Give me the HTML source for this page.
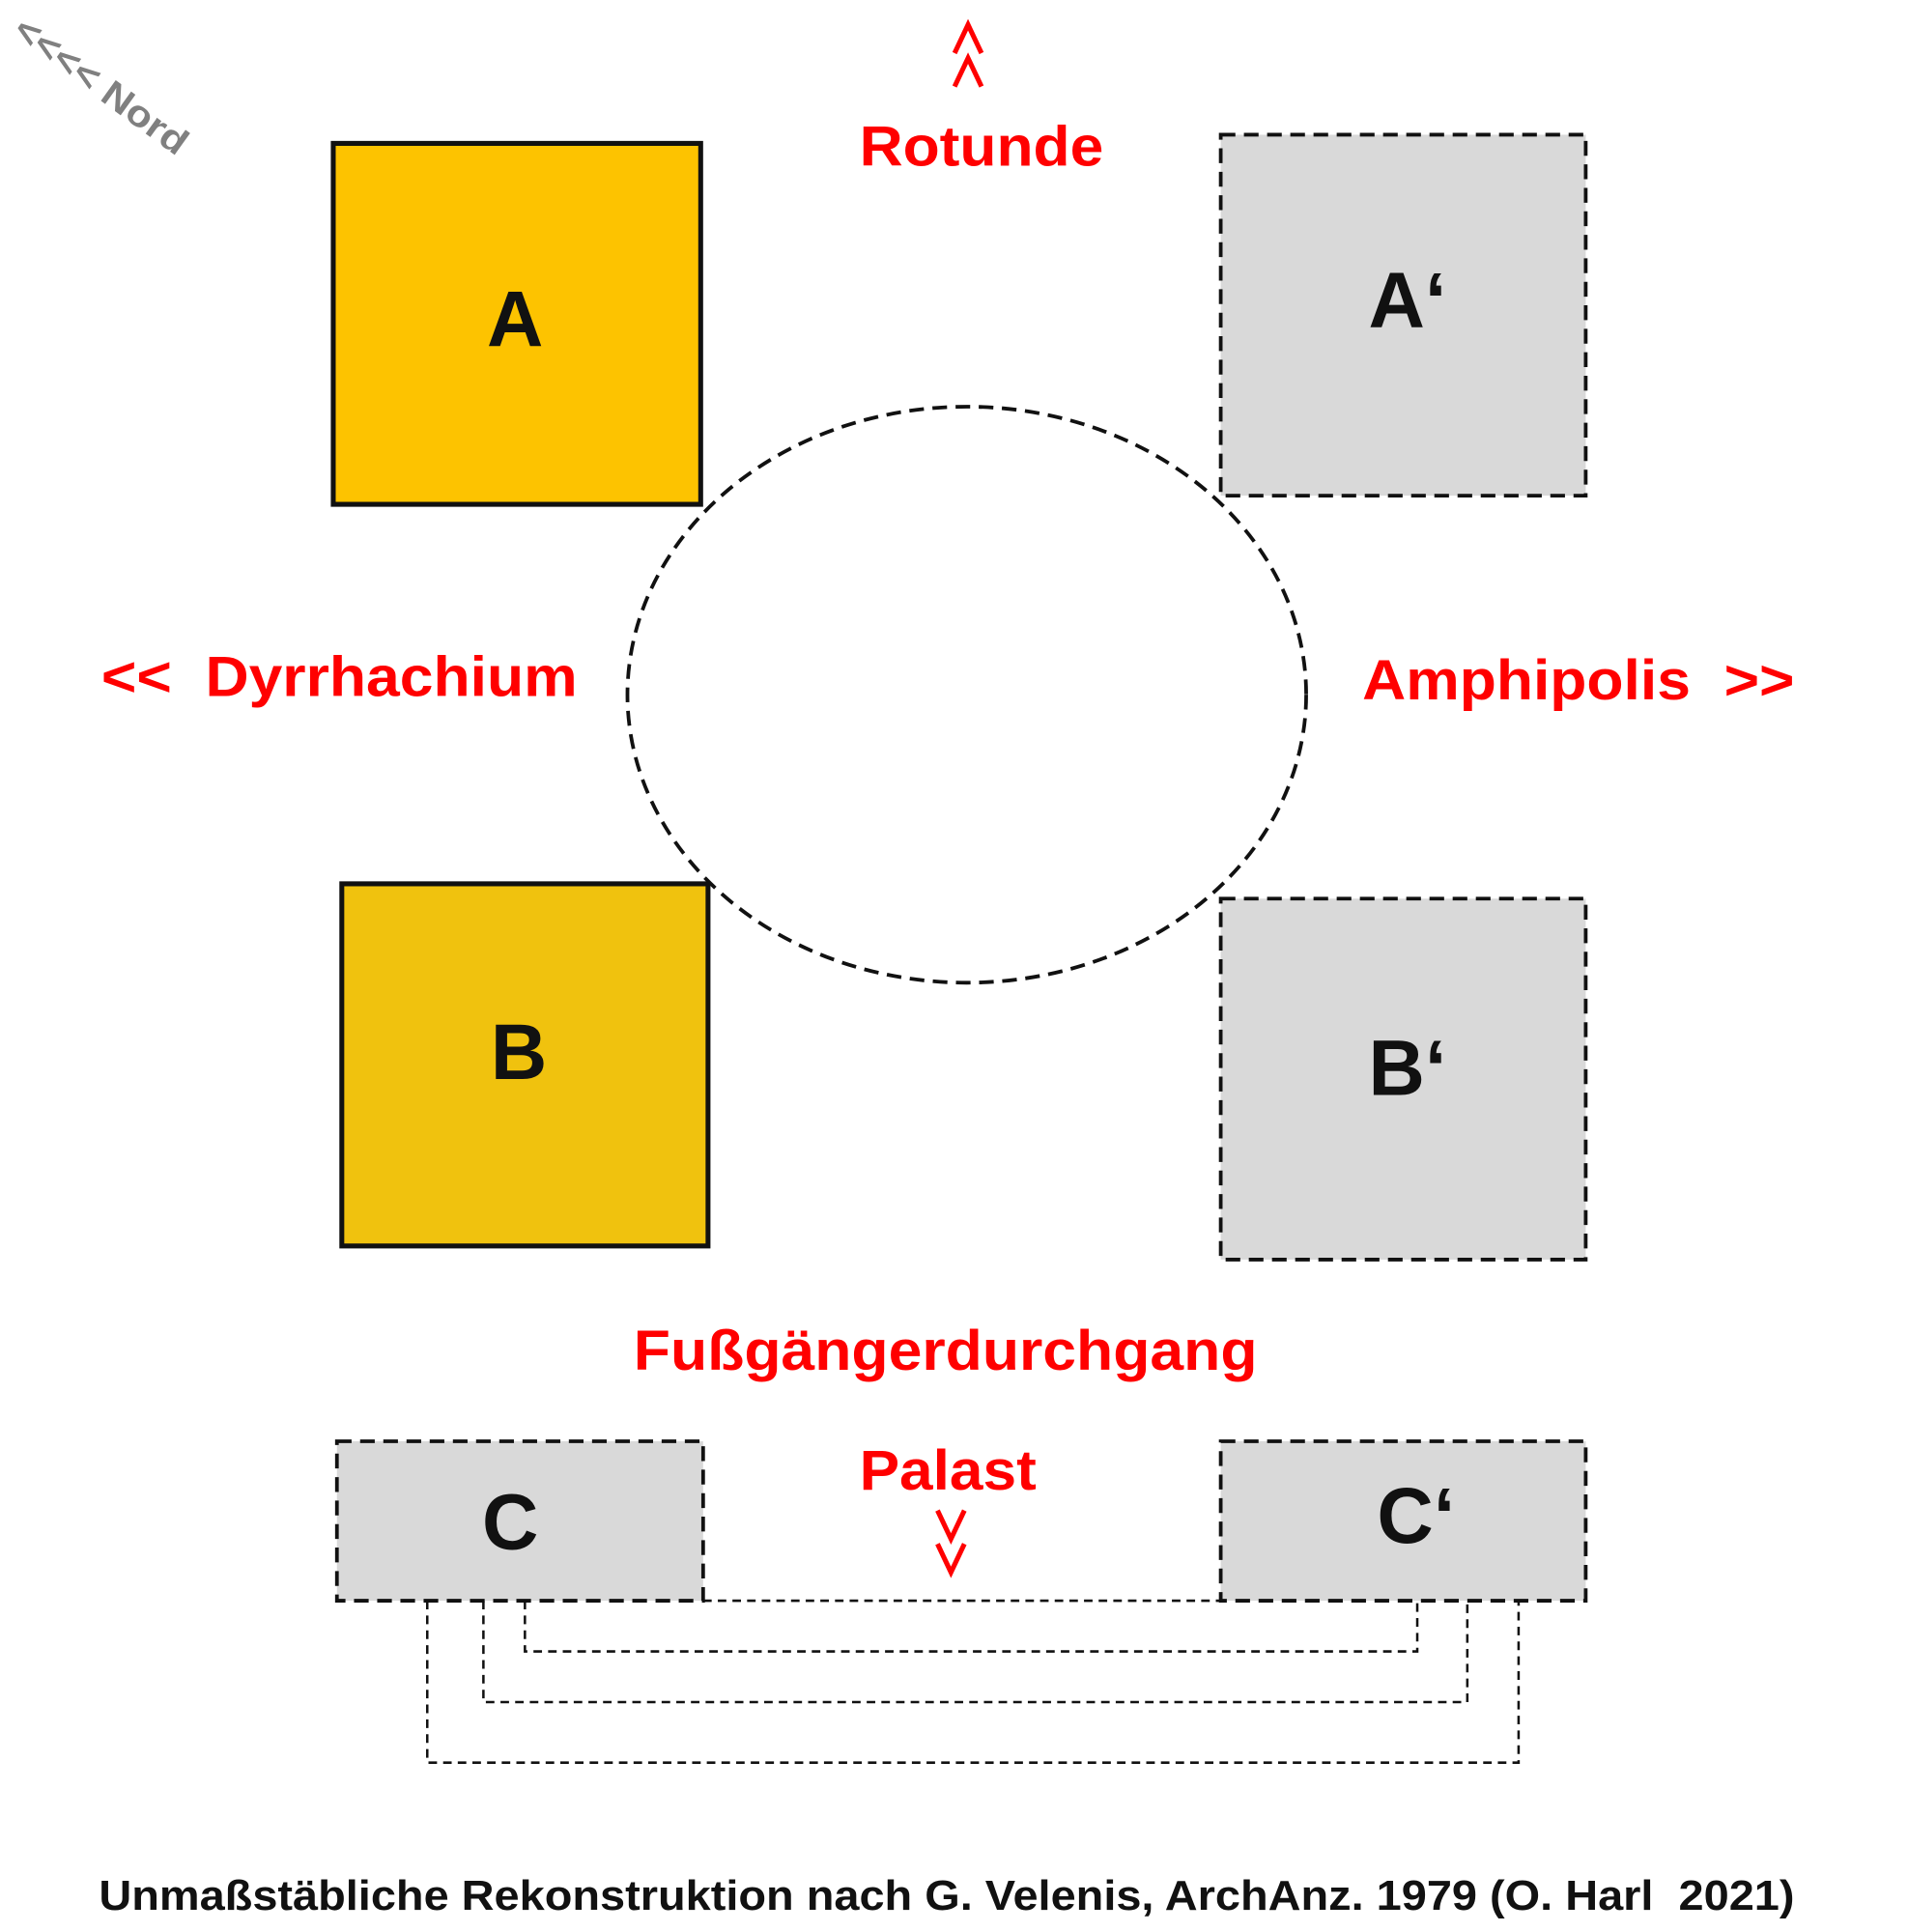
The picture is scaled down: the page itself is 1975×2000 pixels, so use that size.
<!DOCTYPE html>
<html><head><meta charset="utf-8"><style>html,body{margin:0;padding:0;background:#fff}svg{display:block}</style></head>
<body>
<svg width="1975" height="2000" viewBox="0 0 1563 1563" preserveAspectRatio="none" xmlns="http://www.w3.org/2000/svg" font-family="Liberation Sans, Arial, sans-serif" font-weight="bold">
<rect x="0" y="0" width="1563" height="1563" fill="#fff"/>
<text x="9" y="28" transform="rotate(36 9 28)" font-size="30" fill="#808080" textLength="168" lengthAdjust="spacingAndGlyphs">&lt;&lt;&lt;&lt; Nord</text>
<g fill="none" stroke="#f00" stroke-width="4">
<path d="M782 43 L793 20 L804 43"/>
<path d="M782 70 L793 47 L804 70"/>
<path d="M768 1222 L779 1245 L790 1222"/>
<path d="M768 1249 L779 1272 L790 1249"/>
</g>
<text x="704" y="134" font-size="46" fill="#f00" textLength="200" lengthAdjust="spacingAndGlyphs">Rotunde</text>
<rect x="273" y="116" width="301" height="292" fill="#FDC300" stroke="#111" stroke-width="4"/>
<text x="422" y="280" text-anchor="middle" font-size="64" fill="#111">A</text>
<rect x="1000" y="109" width="299" height="292" fill="#D9D9D9" stroke="#111" stroke-width="3" stroke-dasharray="12,7"/>
<text x="1121" y="265" font-size="64" fill="#111">A‘</text>
<ellipse cx="792" cy="562" rx="278" ry="233" fill="none" stroke="#111" stroke-width="3" stroke-dasharray="12,7"/>
<text x="83" y="563" font-size="46" fill="#f00" xml:space="preserve" textLength="390" lengthAdjust="spacingAndGlyphs">&lt;&lt;  Dyrrhachium</text>
<text x="1116" y="566" font-size="46" fill="#f00" xml:space="preserve" textLength="354" lengthAdjust="spacingAndGlyphs">Amphipolis  &gt;&gt;</text>
<rect x="280" y="715" width="300" height="293" fill="#F0C20E" stroke="#111" stroke-width="4"/>
<text x="425" y="873" text-anchor="middle" font-size="64" fill="#111">B</text>
<rect x="1000" y="727" width="299" height="292" fill="#D9D9D9" stroke="#111" stroke-width="3" stroke-dasharray="12,7"/>
<text x="1121" y="886" font-size="64" fill="#111">B‘</text>
<text x="519" y="1108" font-size="46" fill="#f00" textLength="511" lengthAdjust="spacingAndGlyphs">Fußgängerdurchgang</text>
<text x="704" y="1205" font-size="46" fill="#f00" textLength="145" lengthAdjust="spacingAndGlyphs">Palast</text>
<g fill="none" stroke="#111" stroke-width="2" stroke-dasharray="7,5">
<path d="M350 1295 V1426 H1244 V1295"/>
<path d="M396 1295 V1377 H1202 V1295"/>
<path d="M430 1295 V1336 H1161 V1295"/>
</g>
<rect x="276" y="1166" width="300" height="129" fill="#D9D9D9" stroke="#111" stroke-width="3" stroke-dasharray="12,7"/>
<text x="418" y="1253" text-anchor="middle" font-size="64" fill="#111">C</text>
<rect x="1000" y="1166" width="299" height="129" fill="#D9D9D9" stroke="#111" stroke-width="3" stroke-dasharray="12,7"/>
<text x="1128" y="1248" font-size="64" fill="#111">C‘</text>
<line x1="576" y1="1295" x2="1000" y2="1295" stroke="#111" stroke-width="2" stroke-dasharray="7,5"/>
<text x="81" y="1545" font-size="34" fill="#111" xml:space="preserve" textLength="1389" lengthAdjust="spacingAndGlyphs">Unmaßstäbliche Rekonstruktion nach G. Velenis, ArchAnz. 1979 (O. Harl  2021)</text>
</svg>
</body></html>
